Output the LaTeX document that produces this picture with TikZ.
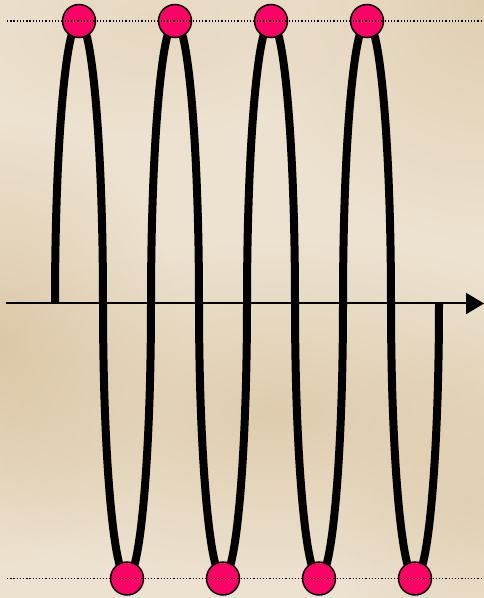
\documentclass[tikz,border=0pt]{standalone}
\usetikzlibrary{arrows.meta,fadings}
\definecolor{bgbase}{HTML}{EDE2D0}
\definecolor{bgdark}{HTML}{D8C19C}
\definecolor{dotpink}{HTML}{FF0066}
\tikzfading[name=softblob, inner color=transparent!0, outer color=transparent!100]
\tikzset{
  wave/.style={line width=8pt, line join=round, line cap=butt},
  ball/.style={circle, draw=black, line width=1.5pt, fill=dotpink, minimum size=33pt, inner sep=0pt},
  guide/.style={line width=1.3pt, dash pattern=on 1.3pt off 1.9pt},
  axisline/.style={line width=2pt, -{Triangle[length=18pt,width=21pt]}},
  blob/.style={fill=bgdark, path fading=softblob}
}
\begin{document}
\begin{tikzpicture}[x=1pt,y=1pt]
  \useasboundingbox (0,0) rectangle (484,598);
  % background
  \fill[bgbase] (0,0) rectangle (484,598);
  \begin{scope}
    \clip (0,0) rectangle (484,598);
    \fill[blob, opacity=0.75] (0,255) ellipse (180 and 220);
    \fill[blob, opacity=0.65] (280,185) ellipse (380 and 170);
    \fill[blob, opacity=0.6] (484,598) ellipse (240 and 240);
    \fill[blob, opacity=0.45] (470,90) ellipse (140 and 180);
    \fill[blob, opacity=0.3] (150,575) ellipse (200 and 110);
  \end{scope}
  % axis
  \coordinate (axL) at (6,294.5);
  \coordinate (axR) at (484,294.5);
  \draw[axisline] (axL) -- (axR);
  % wave
  \coordinate (w0) at (55,294.5);
  \draw[wave] (w0)
    arc[start angle=180, end angle=0, x radius=24, y radius=282.5]
    arc[start angle=180, end angle=360, x radius=24, y radius=275]
    arc[start angle=180, end angle=0, x radius=24, y radius=282.5]
    arc[start angle=180, end angle=360, x radius=24, y radius=275]
    arc[start angle=180, end angle=0, x radius=24, y radius=282.5]
    arc[start angle=180, end angle=360, x radius=24, y radius=275]
    arc[start angle=180, end angle=0, x radius=24, y radius=282.5]
    arc[start angle=180, end angle=360, x radius=24, y radius=275];
  % balls
  \node[ball] (t1) at (79,577) {};
  \node[ball] (t2) at (175,577) {};
  \node[ball] (t3) at (271,577) {};
  \node[ball] (t4) at (367,577) {};
  \node[ball] (b1) at (127,19.5) {};
  \node[ball] (b2) at (223,19.5) {};
  \node[ball] (b3) at (319,19.5) {};
  \node[ball] (b4) at (415,19.5) {};
  % guides
  \coordinate (gtL) at (7,577);
  \coordinate (gtR) at (484,577);
  \coordinate (gbL) at (7,19.5);
  \coordinate (gbR) at (484,19.5);
  \draw[guide] (gtL) -- (gtR);
  \draw[guide] (gbL) -- (gbR);
\end{tikzpicture}
\end{document}
